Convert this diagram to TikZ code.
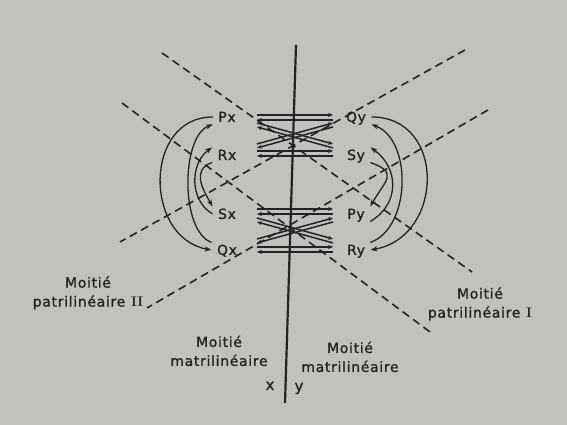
\documentclass[tikz,border=0pt]{standalone}
\usepackage{fontspec}
\usepackage{tikz}
\usetikzlibrary{arrows.meta}
\newfontfamily\diagfont[LetterSpace=5,FakeBold=1.2]{DejaVu Sans}
\definecolor{paper}{RGB}{194,193,189}
\definecolor{ink}{RGB}{35,35,35}

\begin{document}
\begin{tikzpicture}[x=1cm,y=1cm,line width=1.1pt,color=ink,font=\diagfont\fontsize{14}{19}\selectfont,
  cls/.style={inner xsep=5pt,inner ysep=2pt,text height=10pt,text depth=0pt},
  moitie/.style={align=center,inner sep=0pt},
  moiety/.style={line width=1.6pt,dash pattern=on 8pt off 5pt},
  wedline/.style={line width=1.5pt,-{Stealth[length=5pt,width=4pt]}},
  loopline/.style={line width=1.3pt,-{Stealth[length=7pt,width=5pt]}}]
\fill[paper] (0,0) rectangle (20.0,14.99);
% the four halves
\draw[moiety] (5.714,13.122) -- (16.649,5.397);
\draw[moiety] (4.303,11.358) -- (15.167,3.280);
\draw[moiety] (16.402,13.227) -- (4.233,6.455);
\draw[moiety] (17.213,11.111) -- (5.185,4.127);
\draw[line width=2.2pt] (10.441,13.404) -- (10.053,0.776);
% classes
\node[cls] (Px) at (8.007,10.864) {Px};
\node[cls] (Rx) at (8.007,9.524) {Rx};
\node[cls] (Sx) at (8.007,7.443) {Sx};
\node[cls] (Qx) at (8.007,6.173) {Qx};
\node[cls] (Qy) at (12.557,10.864) {Qy};
\node[cls] (Sy) at (12.557,9.524) {Sy};
\node[cls] (Py) at (12.557,7.443) {Py};
\node[cls] (Ry) at (12.557,6.173) {Ry};
% upper marriages
\draw[wedline] ([xshift=30pt,yshift=2pt]Px.center) -- ([xshift=-23pt,yshift=2pt]Qy.center);
\draw[wedline] ([xshift=-23pt,yshift=-3pt]Qy.center) -- ([xshift=30pt,yshift=-3pt]Px.center);
\draw[wedline] ([xshift=30pt,yshift=4pt]Rx.center) -- ([xshift=-23pt,yshift=4pt]Sy.center);
\draw[wedline] ([xshift=-23pt,yshift=-1pt]Sy.center) -- ([xshift=30pt,yshift=-1pt]Rx.center);
\draw[wedline] ([xshift=30pt,yshift=-6pt]Px.center) -- ([xshift=-23pt,yshift=11pt]Sy.center);
\draw[wedline] ([xshift=-23pt,yshift=7pt]Sy.center) -- ([xshift=30pt,yshift=-10pt]Px.center);
\draw[wedline] ([xshift=30pt,yshift=11pt]Rx.center) -- ([xshift=-23pt,yshift=-6pt]Qy.center);
\draw[wedline] ([xshift=-23pt,yshift=-10pt]Qy.center) -- ([xshift=30pt,yshift=7pt]Rx.center);
% lower marriages
\draw[wedline] ([xshift=30pt,yshift=5pt]Sx.center) -- ([xshift=-23pt,yshift=5pt]Py.center);
\draw[wedline] ([xshift=-23pt]Py.center) -- ([xshift=30pt]Sx.center);
\draw[wedline] ([xshift=30pt,yshift=3pt]Qx.center) -- ([xshift=-23pt,yshift=3pt]Ry.center);
\draw[wedline] ([xshift=-23pt,yshift=-2pt]Ry.center) -- ([xshift=30pt,yshift=-2pt]Qx.center);
\draw[wedline] ([xshift=30pt,yshift=-4pt]Sx.center) -- ([xshift=-23pt,yshift=11pt]Ry.center);
\draw[wedline] ([xshift=-23pt,yshift=7pt]Ry.center) -- ([xshift=30pt,yshift=-8pt]Sx.center);
\draw[wedline] ([xshift=30pt,yshift=11pt]Qx.center) -- ([xshift=-23pt,yshift=-4pt]Py.center);
\draw[wedline] ([xshift=-23pt,yshift=-8pt]Py.center) -- ([xshift=30pt,yshift=7pt]Qx.center);
% descent cycles
\draw[loopline] (Px.west) to[out=180,in=170,looseness=1.33] (Qx.west);
\draw[loopline] (Qx.north west) to[out=160,in=200,looseness=0.73] (Px.south west);
\draw[loopline] (Sx.west) to[out=150,in=215,looseness=1.04] (Rx.north west);
\draw[loopline] (Rx.south west) to[out=200,in=120,looseness=1.25] (Sx.north west);
\draw[loopline] (Qy.east) to[out=0,in=10,looseness=1.44] (Ry.east);
\draw[loopline] (Ry.north east) to[out=20,in=-20,looseness=0.94] (Qy.south east);
\draw[loopline] (Py.south east) to[out=30,in=-35,looseness=1.2] (Sy.north east);
\draw[loopline] (Sy.south east) to[out=-20,in=60,looseness=1.77] (Py.north east);
% labels
\node[moitie] (patII) at (3.104,4.656) {Moitié\\patrilinéaire~\textrm{\bfseries II}};
\node[moitie] (patI) at (16.931,4.268) {Moitié\\patrilinéaire~\textrm{\bfseries I}};
\node[moitie] (matx) at (7.725,2.610) {Moitié\\matrilinéaire};
\node[moitie] (maty) at (12.346,2.399) {Moitié\\matrilinéaire};
\node[anchor=base,inner sep=0pt,font=\diagfont\fontsize{15}{18}\selectfont] (sidex) at (9.524,1.235) {x};
\node[anchor=base,inner sep=0pt,font=\diagfont\fontsize{15}{18}\selectfont] (sidey) at (10.547,1.199) {y};
\end{tikzpicture}
\end{document}
